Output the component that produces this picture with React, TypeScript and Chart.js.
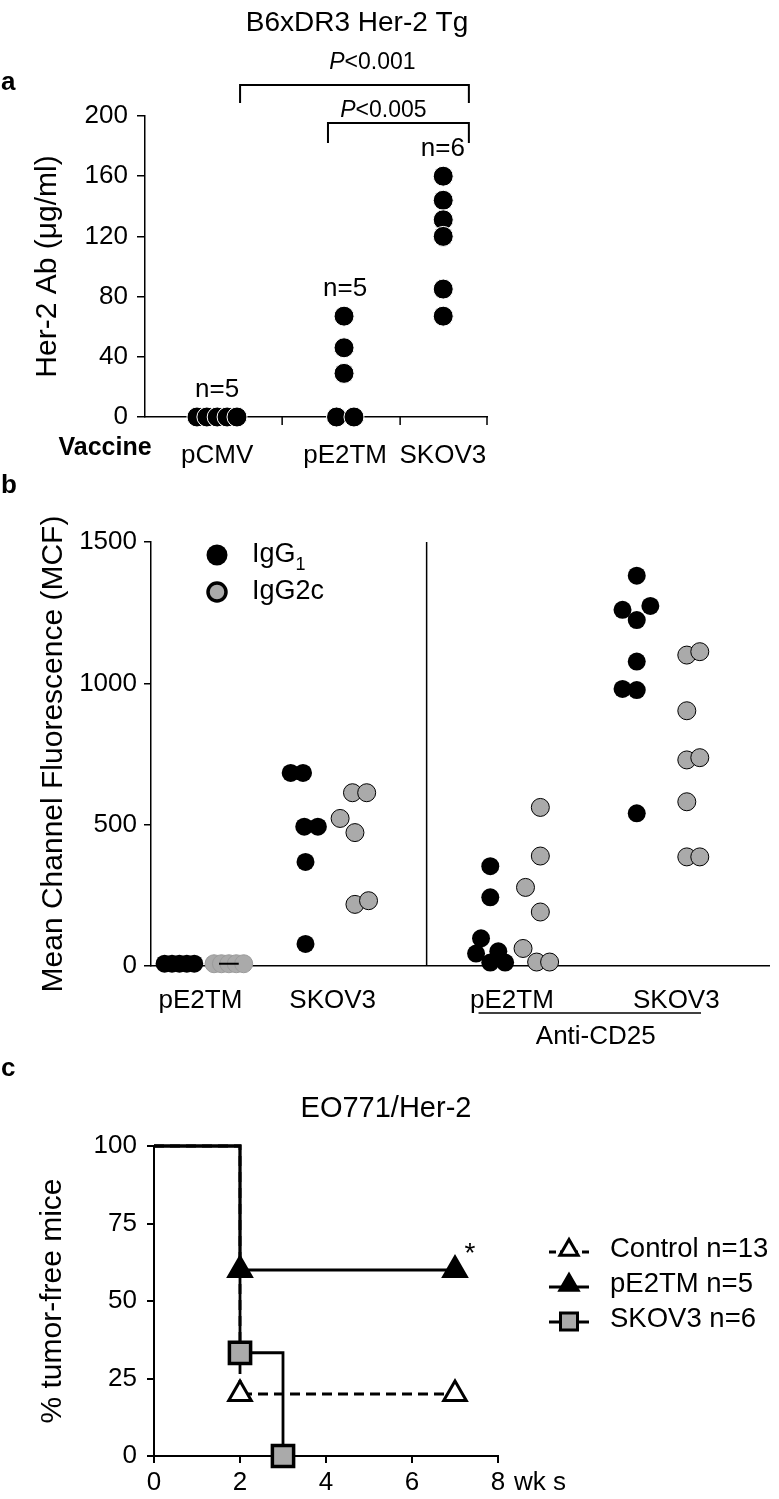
import React, { useEffect, useRef } from 'react';
import { Chart, registerables } from 'chart.js';
Chart.register(...registerables);

const FONT = '"Liberation Sans", Arial, Helvetica, sans-serif';
const INK = '#000000';
const GREY = '#aaaaaa';

// ---------------- Panel a ----------------
const aTitle = 'B6xDR3 Her-2 Tg';
const aCategories = ['pCMV', 'pE2TM', 'SKOV3'];
const aCategoryCenters = [21.1, 58.5, 87.1];
const aCategoryBounds = [40.1, 74.6, 100];
const aGroupCounts = ['n=5', 'n=5', 'n=6'];
const aYTicks = [0, 40, 80, 120, 160, 200];
const aPcmvX = [15.2, 18.1, 21.1, 24.0, 26.9];
const aPcmvY = [0, 0, 0, 0, 0];
const aPe2tmX = [58.2, 58.2, 58.2, 56.0, 61.1];
const aPe2tmY = [67, 46, 29, 0, 0];
const aSkov3X = [87.2, 87.2, 87.2, 87.2, 87.2, 87.2];
const aSkov3Y = [160, 144, 131, 120, 85, 67];
const aBracketFrom = [27.8, 53.5];
const aBracketTo = [94.7, 94.7];
const aBracketTop = [220.6, 195.3];
const aBracketLegEnd = [208.6, 182];
const aBracketText = ['<0.001', '<0.005'];
const aBracketTextX = [66.5, 69.7];
const aBracketTextY = [235.2, 203.3];

// ---------------- Panel b ----------------
const bGroupLabels = ['pE2TM', 'SKOV3', 'pE2TM', 'SKOV3'];
const bGroupLabelPos = [0.8, 2.94, 5.84, 8.5];
const bDivider = 4.46;
const bAntiCD25Span = [5.3, 8.9];
const bYTicks = [0, 500, 1000, 1500];
const bIgG1Pe2tmX = [0.22, 0.34, 0.46, 0.58, 0.7];
const bIgG1Pe2tmY = [8, 8, 8, 8, 8];
const bIgG1Skov3X = [2.26, 2.46, 2.48, 2.7, 2.5, 2.5];
const bIgG1Skov3Y = [683, 683, 493, 493, 368, 78];
const bIgG1CdPe2tmX = [5.49, 5.49, 5.34, 5.26, 5.62, 5.49, 5.73];
const bIgG1CdPe2tmY = [353, 243, 98, 44, 52, 12, 12];
const bIgG1CdSkov3X = [7.86, 7.63, 8.08, 7.86, 7.86, 7.63, 7.86, 7.86];
const bIgG1CdSkov3Y = [1381, 1260, 1274, 1224, 1077, 980, 976, 540];
const bIgG2cPe2tmX = [1.02, 1.14, 1.26, 1.38, 1.5];
const bIgG2cPe2tmY = [8, 8, 8, 8, 8];
const bIgG2cSkov3X = [3.26, 3.49, 3.06, 3.3, 3.3, 3.52];
const bIgG2cSkov3Y = [613, 613, 522, 472, 218, 231];
const bIgG2cCdPe2tmX = [6.3, 6.3, 6.06, 6.3, 6.02, 6.24, 6.45];
const bIgG2cCdPe2tmY = [561, 389, 278, 191, 62, 14, 14];
const bIgG2cCdSkov3X = [8.67, 8.88, 8.67, 8.67, 8.88, 8.67, 8.67, 8.88];
const bIgG2cCdSkov3Y = [1100, 1112, 903, 729, 737, 581, 386, 386];
const bMedianX = [1.1, 1.42];
const bMedianY = [8, 8];

// ---------------- Panel c ----------------
const cTitle = 'EO771/Her-2';
const cXTicks = [0, 2, 4, 6, 8];
const cYTicks = [0, 25, 50, 75, 100];
const cControlWeeks = [0, 2, 7];
const cControlPct = [100, 20, 20];
const cPe2tmWeeks = [0, 2, 7];
const cPe2tmPct = [100, 60, 60];
const cSkov3Weeks = [0, 2, 3];
const cSkov3Pct = [100, 33.3, 0];
const cLegendLabels = ['Control n=13', 'pE2TM n=5', 'SKOV3 n=6'];

const zip = (xs: number[], ys: number[]) => xs.map((x, i) => ({ x, y: ys[i] }));
const f = (size: number, weight: string = 'normal') => ({ family: FONT, size, weight });

function line(ctx: CanvasRenderingContext2D, pts: number[][], w: number, dash: number[] = []) {
  ctx.save();
  ctx.lineWidth = w;
  ctx.strokeStyle = INK;
  ctx.setLineDash(dash);
  ctx.beginPath();
  pts.forEach((p, i) => (i ? ctx.lineTo(p[0], p[1]) : ctx.moveTo(p[0], p[1])));
  ctx.stroke();
  ctx.restore();
}

function text(ctx: CanvasRenderingContext2D, s: string, x: number, y: number, font: string, align: CanvasTextAlign = 'center') {
  ctx.save();
  ctx.fillStyle = INK;
  ctx.font = font;
  ctx.textAlign = align;
  ctx.textBaseline = 'middle';
  ctx.fillText(s, x, y);
  ctx.restore();
}

function pText(ctx: CanvasRenderingContext2D, rest: string, cx: number, cy: number, size: number) {
  ctx.save();
  ctx.font = `italic ${size}px ${FONT}`;
  const w1 = ctx.measureText('P').width;
  ctx.font = `${size}px ${FONT}`;
  const w2 = ctx.measureText(rest).width;
  const start = cx - (w1 + w2) / 2;
  ctx.fillStyle = INK;
  ctx.textBaseline = 'middle';
  ctx.textAlign = 'left';
  ctx.font = `italic ${size}px ${FONT}`;
  ctx.fillText('P', start, cy);
  ctx.font = `${size}px ${FONT}`;
  ctx.fillText(rest, start + w1, cy);
  ctx.restore();
}

const common = {
  responsive: false,
  animation: false,
  devicePixelRatio: 1,
  events: [],
};

const tickGrid = (len: number, w: number) => ({
  display: true,
  drawOnChartArea: false,
  drawTicks: true,
  tickLength: len,
  color: INK,
  lineWidth: w,
});

const plainNumber = (v: any) => String(v);

// ---------- build a ----------
function buildA(): any {
  const dot = {
    pointRadius: 10,
    pointBackgroundColor: INK,
    pointBorderColor: '#ffffff',
    pointBorderWidth: 1,
    clip: false,
  };
  const groupsY = [aPcmvY, aPe2tmY, aSkov3Y];
  const plugin = {
    id: 'panelA',
    afterDraw(chart: any) {
      const { ctx, chartArea } = chart;
      const x = chart.scales.x;
      const y = chart.scales.y;
      const y0 = y.getPixelForValue(0);
      aCategoryBounds.forEach((v) => {
        const px = x.getPixelForValue(v);
        line(ctx, [[px, y0], [px, y0 + 8]], 1.5);
      });
      text(ctx, 'a', 1, 83, `bold 26px ${FONT}`, 'left');
      text(ctx, aTitle, chartArea.left + 212, 23, `28px ${FONT}`);
      text(ctx, 'Vaccine', 105, y0 + 31, `bold 25px ${FONT}`);
      groupsY.forEach((ys, i) => {
        const top = Math.max(...ys);
        text(ctx, aGroupCounts[i], x.getPixelForValue(aCategoryCenters[i]), y.getPixelForValue(top) - 27, `26px ${FONT}`);
      });
      aBracketFrom.forEach((from, i) => {
        const l = x.getPixelForValue(from);
        const r = x.getPixelForValue(aBracketTo[i]);
        const t = y.getPixelForValue(aBracketTop[i]);
        const b = y.getPixelForValue(aBracketLegEnd[i]);
        line(ctx, [[l, b], [l, t], [r, t], [r, b]], 2);
        pText(ctx, aBracketText[i], x.getPixelForValue(aBracketTextX[i]), y.getPixelForValue(aBracketTextY[i]), 23);
      });
    },
  };
  return {
    type: 'scatter',
    data: {
      datasets: [
        { data: zip(aPcmvX, aPcmvY), ...dot },
        { data: zip(aPe2tmX, aPe2tmY), ...dot },
        { data: zip(aSkov3X, aSkov3Y), ...dot },
      ],
    },
    options: {
      ...common,
      layout: { padding: { top: 116, left: 0, right: 292, bottom: 0 } },
      plugins: { legend: { display: false }, tooltip: { enabled: false } },
      scales: {
        x: {
          type: 'linear',
          min: 0,
          max: 100,
          afterBuildTicks: (s: any) => { s.ticks = aCategoryCenters.map((v) => ({ value: v })); },
          afterFit: (s: any) => { s.height = 53; },
          ticks: { autoSkip: false, maxRotation: 0, padding: 15, color: INK, font: f(26), callback: (_v: any, i: number) => aCategories[i] },
          grid: { display: false },
          border: { display: true, color: INK, width: 1.5 },
        },
        y: {
          type: 'linear',
          min: 0,
          max: 200,
          afterBuildTicks: (s: any) => { s.ticks = aYTicks.map((v) => ({ value: v })); },
          afterFit: (s: any) => { s.width = 145; },
          ticks: { padding: 9, color: INK, font: f(26), callback: plainNumber },
          grid: tickGrid(8, 1.5),
          border: { display: true, color: INK, width: 1.5 },
          title: { display: true, text: 'Her-2 Ab (\u03bcg/ml)', color: INK, font: f(30), padding: { top: 29.5, bottom: 0 } },
        },
      },
    },
    plugins: [plugin],
  };
}

// ---------- build b ----------
function buildB(): any {
  const black = { pointRadius: 9, pointBackgroundColor: INK, pointBorderColor: INK, pointBorderWidth: 0, clip: false };
  const grey = { pointRadius: 9, pointBackgroundColor: GREY, pointBorderColor: INK, pointBorderWidth: 1, clip: false };
  const plugin = {
    id: 'panelB',
    afterDraw(chart: any) {
      const { ctx, chartArea } = chart;
      const x = chart.scales.x;
      const y = chart.scales.y;
      const dx = x.getPixelForValue(bDivider);
      line(ctx, [[dx, y.getPixelForValue(0)], [dx, y.getPixelForValue(1500)]], 1.5);
      text(ctx, 'b', 1, 16, `bold 26px ${FONT}`, 'left');
      // y title
      ctx.save();
      ctx.translate(53.5, (chartArea.top + chartArea.bottom) / 2);
      ctx.rotate(-Math.PI / 2);
      text(ctx, 'Mean Channel Fluorescence (MCF)', 0, 0, `30px ${FONT}`);
      ctx.restore();
      // legend
      const lx = chartArea.left + 66;
      const ly1 = chartArea.top + 13;
      const ly2 = chartArea.top + 50;
      ctx.save();
      ctx.fillStyle = INK;
      ctx.beginPath();
      ctx.arc(lx, ly1, 10.5, 0, Math.PI * 2);
      ctx.fill();
      ctx.fillStyle = GREY;
      ctx.strokeStyle = INK;
      ctx.lineWidth = 3.5;
      ctx.beginPath();
      ctx.arc(lx, ly2, 9, 0, Math.PI * 2);
      ctx.fill();
      ctx.stroke();
      ctx.restore();
      ctx.save();
      ctx.font = `27px ${FONT}`;
      const wIgG = ctx.measureText('IgG').width;
      ctx.restore();
      text(ctx, 'IgG', lx + 35, ly1, `27px ${FONT}`, 'left');
      text(ctx, '1', lx + 35 + wIgG, ly1 + 10, `18px ${FONT}`, 'left');
      text(ctx, 'IgG2c', lx + 35, ly2, `27px ${FONT}`, 'left');
      // anti-CD25
      const l = x.getPixelForValue(bAntiCD25Span[0]);
      const r = x.getPixelForValue(bAntiCD25Span[1]);
      line(ctx, [[l, chartArea.bottom + 47], [r, chartArea.bottom + 47]], 1.5);
      text(ctx, 'Anti-CD25', (l + r) / 2 + 6, chartArea.bottom + 71, `26px ${FONT}`);
    },
  };
  return {
    type: 'scatter',
    data: {
      datasets: [
        { data: zip(bIgG1Pe2tmX, bIgG1Pe2tmY), ...black },
        { data: zip(bIgG2cPe2tmX, bIgG2cPe2tmY), ...grey, pointBorderColor: '#9a9a9a' },
        { data: zip(bMedianX, bMedianY), type: 'line', showLine: true, borderColor: INK, borderWidth: 2, pointRadius: 0, clip: false, order: -1 },
        { data: zip(bIgG1Skov3X, bIgG1Skov3Y), ...black },
        { data: zip(bIgG2cSkov3X, bIgG2cSkov3Y), ...grey },
        { data: zip(bIgG1CdPe2tmX, bIgG1CdPe2tmY), ...black },
        { data: zip(bIgG2cCdPe2tmX, bIgG2cCdPe2tmY), ...grey },
        { data: zip(bIgG1CdSkov3X, bIgG1CdSkov3Y), ...black },
        { data: zip(bIgG2cCdSkov3X, bIgG2cCdSkov3Y), ...grey },
      ],
    },
    options: {
      ...common,
      layout: { padding: { top: 72, left: 0, right: 3, bottom: 0 } },
      plugins: { legend: { display: false }, tooltip: { enabled: false } },
      scales: {
        x: {
          type: 'linear',
          min: 0,
          max: 10,
          afterBuildTicks: (s: any) => { s.ticks = bGroupLabelPos.map((v) => ({ value: v })); },
          afterFit: (s: any) => { s.height = 84; },
          ticks: { autoSkip: false, maxRotation: 0, padding: 11, color: INK, font: f(26), callback: (_v: any, i: number) => bGroupLabels[i] },
          grid: { display: false },
          border: { display: true, color: INK, width: 1.5 },
        },
        y: {
          type: 'linear',
          min: 0,
          max: 1500,
          afterBuildTicks: (s: any) => { s.ticks = bYTicks.map((v) => ({ value: v })); },
          afterFit: (s: any) => { s.width = 151; },
          ticks: { padding: 7, color: INK, font: f(26), callback: plainNumber },
          grid: tickGrid(7, 1.5),
          border: { display: true, color: INK, width: 1.5 },
        },
      },
    },
    plugins: [plugin],
  };
}

// ---------- build c ----------
function drawTriangle(ctx: CanvasRenderingContext2D, x: number, y: number, r: number, fill: string, bw: number) {
  ctx.save();
  ctx.beginPath();
  ctx.moveTo(x, y - r);
  ctx.lineTo(x + 0.866 * r, y + 0.5 * r);
  ctx.lineTo(x - 0.866 * r, y + 0.5 * r);
  ctx.closePath();
  ctx.fillStyle = fill;
  ctx.fill();
  ctx.lineWidth = bw;
  ctx.lineJoin = 'miter';
  ctx.strokeStyle = INK;
  ctx.stroke();
  ctx.restore();
}

function buildC(): any {
  const lineBase = { showLine: true, stepped: true, borderColor: INK, borderWidth: 2.8, pointBorderColor: INK, clip: false };
  const legendStyles = [
    { dash: [7, 4], kind: 'tri', fill: '#ffffff' },
    { dash: [], kind: 'tri', fill: INK },
    { dash: [], kind: 'sq', fill: GREY },
  ];
  const plugin = {
    id: 'panelC',
    afterDraw(chart: any) {
      const { ctx, chartArea } = chart;
      const x = chart.scales.x;
      const y = chart.scales.y;
      text(ctx, 'c', 1, 19, `bold 26px ${FONT}`, 'left');
      text(ctx, cTitle, chartArea.left + 232, 59, `29px ${FONT}`);
      const lastI = cPe2tmWeeks.length - 1;
      text(ctx, '*', x.getPixelForValue(cPe2tmWeeks[lastI]) + 15, y.getPixelForValue(cPe2tmPct[lastI]) - 16, `28px ${FONT}`);
      text(ctx, 'wk s', x.getPixelForValue(cXTicks[cXTicks.length - 1]) + 16, chartArea.bottom + 27, `26px ${FONT}`, 'left');
      cLegendLabels.forEach((lab, i) => {
        const ly = chartArea.top + 103 + i * 35;
        const st = legendStyles[i];
        line(ctx, [[549, ly + 3], [589, ly + 3]], 3, st.dash);
        if (st.kind === 'tri') {
          drawTriangle(ctx, 569, ly + 1, 10.5, st.fill, 3);
        } else {
          ctx.save();
          ctx.fillStyle = st.fill;
          ctx.strokeStyle = INK;
          ctx.lineWidth = 3;
          ctx.fillRect(569 - 8.5, ly - 6, 17, 17);
          ctx.strokeRect(569 - 8.5, ly - 6, 17, 17);
          ctx.restore();
        }
        text(ctx, lab, 610, ly, `27.5px ${FONT}`, 'left');
      });
    },
  };
  return {
    type: 'scatter',
    data: {
      datasets: [
        {
          data: zip(cControlWeeks, cControlPct), ...lineBase, borderDash: [10, 6], order: 3,
          pointStyle: 'triangle', pointRadius: [0, 13, 13], pointBackgroundColor: '#ffffff', pointBorderWidth: 3,
        },
        {
          data: zip(cPe2tmWeeks, cPe2tmPct), ...lineBase, order: 2,
          pointStyle: 'triangle', pointRadius: [0, 13, 13], pointBackgroundColor: INK, pointBorderWidth: 3,
        },
        {
          data: zip(cSkov3Weeks, cSkov3Pct), ...lineBase, order: 1,
          pointStyle: 'rect', pointRadius: [0, 15, 15], pointBackgroundColor: GREY, pointBorderWidth: 3.5,
        },
      ],
    },
    options: {
      ...common,
      layout: { padding: { top: 96, left: 0, right: 281, bottom: 0 } },
      plugins: { legend: { display: false }, tooltip: { enabled: false } },
      scales: {
        x: {
          type: 'linear',
          min: 0,
          max: 8,
          afterBuildTicks: (s: any) => { s.ticks = cXTicks.map((v) => ({ value: v })); },
          afterFit: (s: any) => { s.height = 43; },
          ticks: { autoSkip: false, maxRotation: 0, padding: 4, color: INK, font: f(26), callback: plainNumber },
          grid: tickGrid(7, 2),
          border: { display: true, color: INK, width: 2 },
        },
        y: {
          type: 'linear',
          min: 0,
          max: 100,
          afterBuildTicks: (s: any) => { s.ticks = cYTicks.map((v) => ({ value: v })); },
          afterFit: (s: any) => { s.width = 154; },
          ticks: { padding: 10, color: INK, font: f(26), callback: plainNumber },
          grid: tickGrid(7, 2),
          border: { display: true, color: INK, width: 2 },
          title: { display: true, text: '% tumor-free mice', color: INK, font: f(30), padding: { top: 34.5, bottom: 0 } },
        },
      },
    },
    plugins: [plugin],
  };
}

export default function App() {
  const aRef = useRef<HTMLCanvasElement>(null);
  const bRef = useRef<HTMLCanvasElement>(null);
  const cRef = useRef<HTMLCanvasElement>(null);
  useEffect(() => {
    const charts = [
      new Chart(aRef.current as HTMLCanvasElement, buildA()),
      new Chart(bRef.current as HTMLCanvasElement, buildB()),
      new Chart(cRef.current as HTMLCanvasElement, buildC()),
    ];
    return () => charts.forEach((c) => c.destroy());
  }, []);
  return (
    <div style={{ position: 'absolute', left: 0, top: 0, width: 779, height: 1499, background: '#ffffff', overflow: 'hidden' }}>
      <canvas ref={aRef} width={779} height={470} style={{ position: 'absolute', left: 0, top: 0, width: 779, height: 470 }} />
      <canvas ref={bRef} width={779} height={580} style={{ position: 'absolute', left: 0, top: 470, width: 779, height: 580 }} />
      <canvas ref={cRef} width={779} height={449} style={{ position: 'absolute', left: 0, top: 1050, width: 779, height: 449 }} />
    </div>
  );
}
